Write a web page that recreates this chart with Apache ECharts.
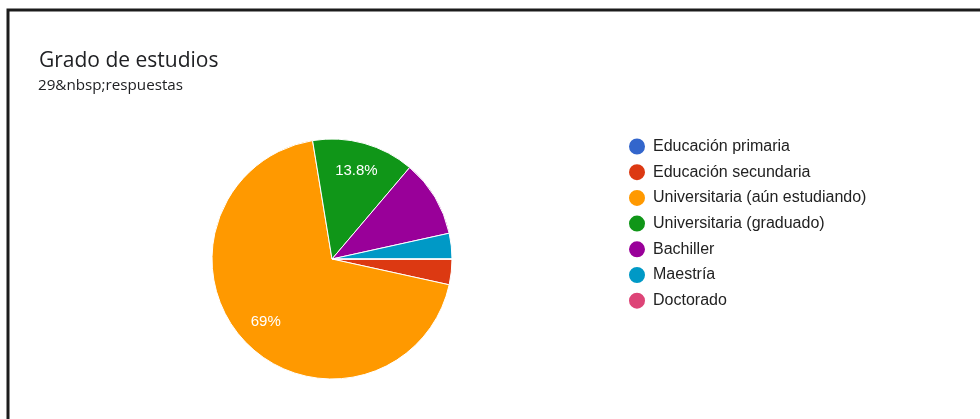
<!DOCTYPE html>
<html>
<head>
<meta charset="utf-8">
<script src="https://cdn.jsdelivr.net/npm/echarts@6/dist/echarts.min.js"></script>
<style>
  html, body { margin: 0; padding: 0; background: #fff; }
  #chart { width: 980px; height: 419px; }
</style>
</head>
<body>
<div id="chart"></div>
<script>
// Survey question: education level, 29 responses
const titleText = 'Grado de estudios';
const subtitleText = '29&nbsp;respuestas';
const categories = [
  'Educación primaria',
  'Educación secundaria',
  'Universitaria (aún estudiando)',
  'Universitaria (graduado)',
  'Bachiller',
  'Maestría',
  'Doctorado'
];
const responses = [0, 1, 20, 4, 3, 1, 0];
const palette = ['#3366cc', '#dc3912', '#ff9900', '#109618', '#990099', '#0099c6', '#dd4477'];

const HEAD_FONT = '"Open Sans", Roboto, sans-serif';
const BODY_FONT = '"Liberation Sans", Arial, sans-serif';
const pieData = categories.map((name, i) => ({ name, value: responses[i] }));
const center = [332, 259];
const outer = 120;

const chart = echarts.init(document.getElementById('chart'), null, { renderer: 'canvas' });
chart.setOption({
  animation: false,
  color: palette,
  graphic: [
    {
      type: 'polyline',
      silent: true,
      shape: { points: [[8, 419], [8, 10], [980, 10]] },
      style: { stroke: '#1c1c1c', lineWidth: 3, fill: null }
    },
    {
      type: 'text', x: 39, y: 61,
      style: { text: titleText, font: '21px ' + HEAD_FONT, fill: '#202124', verticalAlign: 'middle' }
    },
    {
      type: 'text', x: 38, y: 85.5,
      style: { text: subtitleText, font: '15.2px ' + HEAD_FONT, fill: '#202124', verticalAlign: 'middle' }
    }
  ],
  legend: {
    orient: 'vertical',
    left: 627,
    top: 136.5,
    padding: 0,
    icon: 'circle',
    itemWidth: 22,
    itemHeight: 18,
    itemGap: 5.7,
    symbolKeepAspect: true,
    selectedMode: false,
    data: categories,
    textStyle: { fontFamily: BODY_FONT, fontSize: 16, color: '#222' }
  },
  series: [
    {
      type: 'pie',
      center: center,
      radius: [0, outer],
      startAngle: 0,
      clockwise: true,
      avoidLabelOverlap: false,
      silent: true,
      itemStyle: { borderColor: '#fff', borderWidth: 1 },
      label: { show: false },
      labelLine: { show: false },
      data: pieData
    },
    {
      // label ring: sits over the pie so percentages land at ~3/4 of the radius
      type: 'pie',
      center: center,
      radius: [outer * 0.47, outer],
      startAngle: 0,
      clockwise: true,
      avoidLabelOverlap: false,
      silent: true,
      legendHoverLink: false,
      itemStyle: { color: 'rgba(0,0,0,0)', borderWidth: 0 },
      percentPrecision: 1,
      label: {
        show: true,
        position: 'inside',
        fontFamily: BODY_FONT,
        fontSize: 15,
        color: '#fff',
        formatter: p => (p.percent >= 12 ? p.percent + '%' : '')
      },
      labelLine: { show: false },
      data: pieData.map(d => ({ name: d.name + ' ', value: d.value }))
    }
  ]
});
</script>
</body>
</html>
